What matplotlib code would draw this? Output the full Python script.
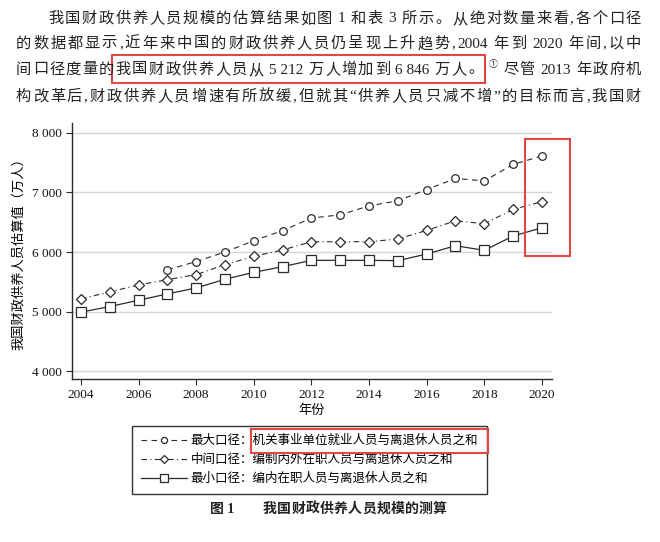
import re
import matplotlib
matplotlib.use("Agg")
import matplotlib.pyplot as plt
from matplotlib.patches import Rectangle

plt.rcParams['font.family'] = ['Liberation Serif', 'Noto Sans CJK SC', 'DejaVu Sans']

# data (万人)
years = list(range(2004, 2021))
max_years = list(range(2007, 2021))
max_vals = [5700, 5840, 6000, 6190, 6360, 6570, 6625, 6775, 6860, 7050, 7235, 7195, 7470, 7615]
mid_vals = [5212, 5330, 5447, 5536, 5620, 5788, 5927, 6034, 6173, 6173, 6173, 6218, 6363, 6525, 6475, 6715, 6846]
min_vals = [4990, 5084, 5190, 5296, 5397, 5542, 5659, 5754, 5860, 5860, 5860, 5855, 5966, 6106, 6028, 6268, 6408]

y_ticks = [4000, 5000, 6000, 7000, 8000]
y_tick_labels = ['4 000', '5 000', '6 000', '7 000', '8 000']
x_ticks = list(range(2004, 2021, 2))

legend_labels = ['最大口径：机关事业单位就业人员与离退休人员之和',
                 '中间口径：编制内外在职人员与离退休人员之和',
                 '最小口径：编内在职人员与离退休人员之和']

paragraph = ['我国财政供养人员规模的估算结果如图1和表3所示。从绝对数量来看,各个口径',
             '的数据都显示,近年来中国的财政供养人员仍呈现上升趋势,2004年到2020年间,以中',
             '间口径度量的我国财政供养人员从5 212万人增加到6 846万人。①尽管2013年政府机',
             '构改革后,财政供养人员增速有所放缓,但就其“供养人员只减不增”的目标而言,我国财']
caption_num = '图 1'
caption = '我国财政供养人员规模的测算'


# spread the tokens of one line evenly between x0 and x1 (pixel coords)
def justify(ax, text, x0, x1, y, size, weight='normal'):
    r = ax.figure.canvas.get_renderer()
    em = size * 100 / 72
    items, widths, extra = [], [], []
    for tok in re.findall(r'\d[\d ]*\d|.', text):
        if tok == '①':
            t = ax.text(0, y - 5, tok, fontsize=size * 0.6, va='center', ha='left', color='#222')
        else:
            t = ax.text(0, y, tok, fontsize=size, fontweight=weight, va='center', ha='left', color='#222')
        items.append(t)
        if ord(tok[0]) > 0x2E80 and tok != '①':
            widths.append(em)
        else:
            widths.append(t.get_window_extent(r).width)
        extra.append(4 if tok[0].isdigit() else 0)
    pad = [0] * len(items)
    for i in range(len(items) - 1):
        if items[i].get_text() != ',':
            pad[i] = max(extra[i], extra[i + 1])
    gap = (x1 - x0 - sum(widths) - sum(pad)) / (len(items) - 1)
    x = x0
    for t, w, p in zip(items, widths, pad):
        t.set_x(x)
        x += w + gap + p
    return items, widths


fig = plt.figure(figsize=(6.6, 5.42), dpi=100)
ax = fig.add_axes([72 / 660, 1 - 379 / 542, 480 / 660, 256 / 542])

dark = '#2a2a2a'
l1, = ax.plot(max_years, max_vals, color=dark, lw=0.8, ls=(0, (5, 4)),
              marker='o', ms=5.5, mfc='white', mec=dark, mew=0.9, label=legend_labels[0])
l2, = ax.plot(years, mid_vals, color=dark, lw=0.8, ls=(0, (5, 3, 1, 3)),
              marker='D', ms=4.8, mfc='white', mec=dark, mew=0.9, label=legend_labels[1])
l3, = ax.plot(years, min_vals, color=dark, lw=0.9, ls='-',
              marker='s', ms=6.5, mfc='white', mec=dark, mew=0.9, label=legend_labels[2])

ax.set_xlim(2003.69, 2020.35)
ax.set_ylim(3867, 8167)
ax.set_yticks(y_ticks)
ax.set_yticklabels(y_tick_labels)
ax.set_xticks(x_ticks)
ax.tick_params(labelsize=9.5, length=4, width=0.8, color=dark, labelcolor='#111')
ax.yaxis.grid(True, color='#d6d6d6', lw=1)
ax.set_axisbelow(True)
for s in ['top', 'right']:
    ax.spines[s].set_visible(False)
for s in ['left', 'bottom']:
    ax.spines[s].set_linewidth(1.0)
    ax.spines[s].set_color(dark)
ax.set_xlabel('年份', fontsize=9.5, labelpad=2)
ax.set_ylabel('我国财政供养人员估算值（万人）', fontsize=9.5, labelpad=5)

leg = fig.legend(handles=[l1, l2, l3], loc='upper left', bbox_to_anchor=(132 / 660, 1 - 426 / 542),
                 bbox_transform=fig.transFigure, borderaxespad=0, fontsize=9, handlelength=3.7,
                 handletextpad=0.3, borderpad=0.7, labelspacing=0.55, markerscale=0.8,
                 fancybox=False, framealpha=1, edgecolor='#333')

# overlay in pixel coordinates for the page text and the red highlight boxes
ov = fig.add_axes([0, 0, 1, 1])
ov.set_xlim(0, 660)
ov.set_ylim(542, 0)
ov.axis('off')
ov.set_zorder(10)
ov.patch.set_alpha(0)

line_y = [19, 44, 70, 97]
lines = []
for i, (line, y) in enumerate(zip(paragraph, line_y)):
    lines.append(justify(ov, line, 48 if i == 0 else 16, 641, y, 11))

ov.text(210, 509, caption_num, fontsize=10, fontweight='bold', va='center', color='#222')
justify(ov, caption, 263, 447, 509, 10, weight='bold')

red = '#e04848'
fig.canvas.draw()
r = fig.canvas.get_renderer()

# box around the highlighted clause on the third line
items, widths = lines[2]
toks = [t.get_text() for t in items]
i0, i1 = toks.index('我'), toks.index('。')
bx0 = items[i0].get_position()[0] - 3
bx1 = items[i1].get_position()[0] + widths[i1] + 2
ov.add_patch(Rectangle((bx0, 55), bx1 - bx0, 28, fill=False, ec=red, lw=1.5))

# box over the recent years of the chart
ov.add_patch(Rectangle((525, 139), 45, 117, fill=False, ec=red, lw=1.5))

# box around the definition in the first legend entry
t0 = leg.get_texts()[0]
ext = t0.get_window_extent(r)
tmp = ov.text(0, 0, legend_labels[0][:5], fontsize=9)
pre = tmp.get_window_extent(r).width
tmp.remove()
fx1 = leg.get_frame().get_window_extent(r).x1
ly = 542 - (ext.y0 + ext.y1) / 2
ov.add_patch(Rectangle((ext.x0 + pre - 2, ly - 12), fx1 + 1 - (ext.x0 + pre - 2), 24,
                       fill=False, ec=red, lw=1.5))

fig.savefig('out.png', dpi=100)
